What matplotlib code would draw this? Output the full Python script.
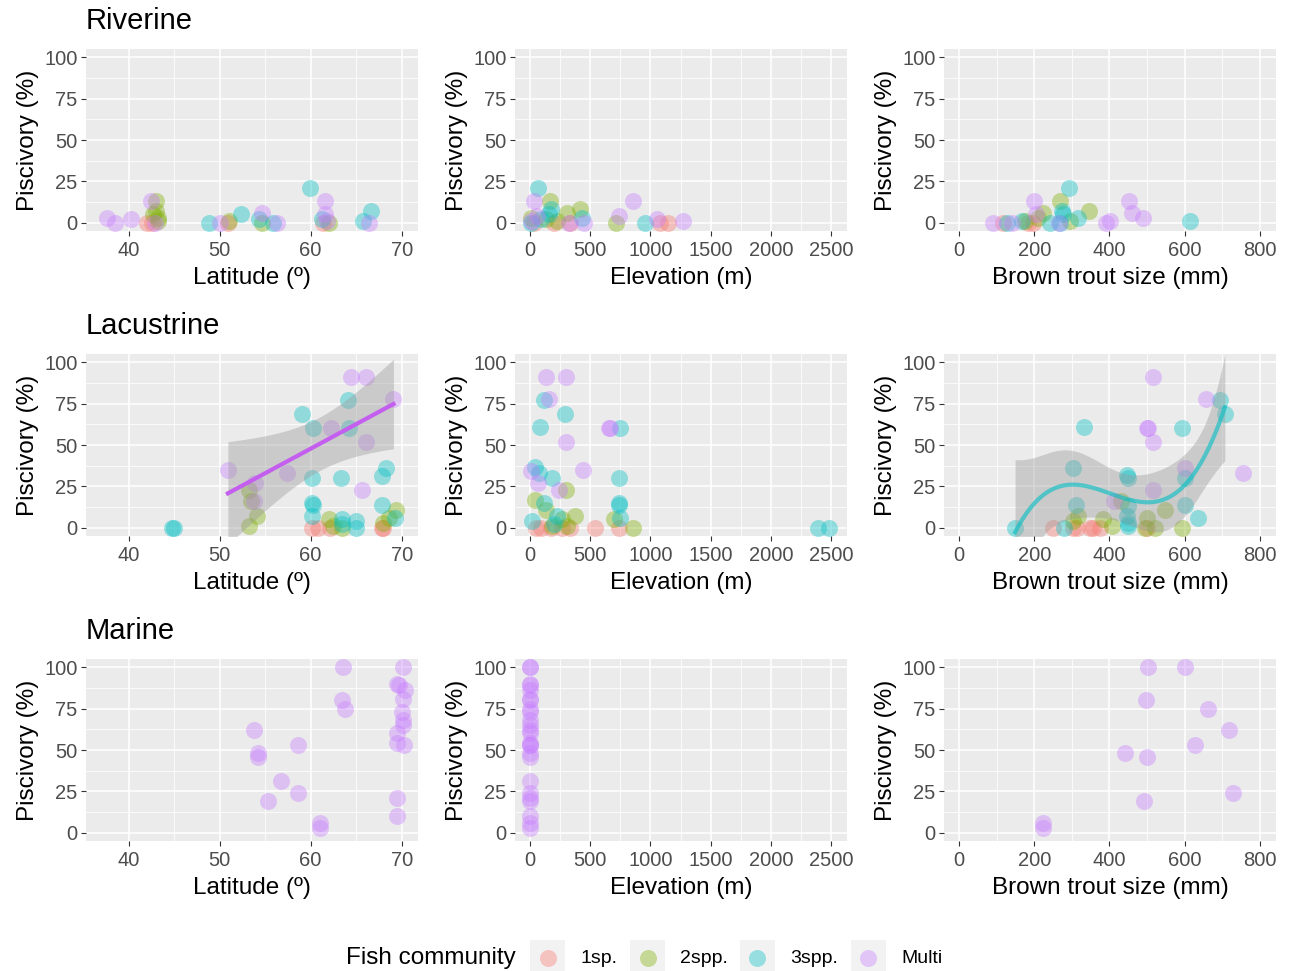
import numpy as np
import matplotlib
matplotlib.use("Agg")
import matplotlib.pyplot as plt

plt.rcParams['font.family'] = ['Liberation Sans', 'DejaVu Sans']

COLS = {"1sp.": "#F8766D", "2spp.": "#7CAE00", "3spp.": "#00BFC4", "Multi": "#C77CFF"}
groups = ["1sp.", "2spp.", "3spp.", "Multi"]

# ---- Riverine ----
riv_lat = {
    "Multi": ([37.6, 38.5, 40.3, 42.5, 42.9, 50, 54.7, 56.3, 61.6, 61.6, 66.4, 61.8],
              [3, 0, 2, 13, 0, 0, 6, 0, 13, 5, 0, 1]),
    "3spp.": ([48.8, 52.3, 54.3, 55.9, 59.9, 61.2, 65.7, 66.6], [0, 5, 2, 0, 21, 2, 1, 7]),
    "2spp.": ([43, 43, 43.2, 43.2, 51, 54.7, 62, 42.7], [13, 7, 3, 1, 1, 0, 0, 5]),
    "1sp.": ([42, 42.6, 61.4, 50.9], [0, 0, 0, 0]),
}
riv_elev = {
    "3spp.": ([66, 171, 157, 88, 956, 432, 5], [21, 8, 5, 2, 0, 3, 0]),
    "Multi": ([33, 854, 736, 1052, 1267, 5, 446, 60, 322], [13, 13, 4, 2, 1, 1, 0, 4, 0]),
    "2spp.": ([165, 419, 309, 713, 5, 226, 129], [13, 8, 6, 0, 3, 1, 2]),
    "1sp.": ([1149, 1080, 33, 198, 336], [0, 0, 0, 0, 0]),
}
riv_size = {
    "Multi": ([89, 200, 206, 392, 401, 453, 459, 488, 267, 140], [0, 13, 5, 0, 1, 13, 6, 3, 0, 0]),
    "3spp.": ([292, 273, 277, 614, 127, 167, 242, 317, 268], [21, 7, 5, 1, 0, 1, 0, 3, 0]),
    "2spp.": ([268, 346, 222, 211, 295, 175], [13, 7, 6, 3, 1, 1]),
    "1sp.": ([184, 198, 118], [0, 0, 0]),
}

# ---- Lacustrine ----
lac_lat = {
    "Multi": ([50.9, 53.9, 53.8, 57.4, 62.2, 64.4, 66.1, 66.1, 65.6, 69.1],
              [35, 27, 16, 33, 60, 91, 91, 52, 23, 78]),
    "3spp.": ([44.8, 45, 59.1, 60.3, 60.2, 60.2, 60.3, 60.2, 64.1, 64.2, 63.3, 63.4, 63.4, 65, 65, 67.8, 68.3, 67.8, 69.3],
              [0, 0, 69, 60, 30, 15, 14, 7, 77, 60, 30, 5, 2, 4, 0, 31, 36, 14, 6]),
    "2spp.": ([53.2, 53.4, 54.1, 53.2, 62, 63.4, 69.4, 68.6, 67.9, 62.5], [23, 16, 7, 1, 5, 0, 11, 6, 3, 1]),
    "1sp.": ([60.2, 60.8, 62.1, 67.8, 67.9], [0, 0, 0, 0, 0]),
}
lac_elev = {
    "Multi": ([129, 300, 157, 300, 667, 653, 441, 10, 66, 240], [91, 91, 78, 52, 60, 60, 35, 34, 27, 23]),
    "3spp.": ([116, 287, 83, 744, 41, 74, 185, 741, 736, 741, 116, 744, 19, 2389, 2485, 226, 198],
              [77, 69, 61, 60, 37, 33, 30, 30, 15, 14, 15, 6, 4, 0, 0, 7, 2]),
    "2spp.": ([39, 295, 129, 377, 694, 854, 267, 185, 309], [17, 23, 11, 7, 5, 0, 5, 1, 1]),
    "1sp.": ([537, 736, 336, 267, 88, 47, 171], [0, 0, 0, 0, 0, 0, 0]),
}
lac_size = {
    "Multi": ([516, 658, 503, 499, 516, 600, 756, 516, 412], [91, 78, 60, 60, 52, 36, 33, 23, 16]),
    "3spp.": ([149, 279, 304, 311, 332, 446, 450, 450, 446, 450, 450, 594, 600, 600, 636, 694, 707],
              [0, 0, 36, 14, 61, 32, 30, 13, 7, 3, 1, 60, 30, 14, 6, 77, 69]),
    "2spp.": ([432, 547, 499, 594, 521, 406, 384, 317, 304, 494], [16, 11, 6, 0, 0, 1, 5, 7, 4, 0]),
    "1sp.": ([251, 304, 348, 357, 375, 499, 313], [0, 0, 0, 0, 0, 0, 0]),
}

# ---- Marine (all Multi) ----
mar_pisc = [100, 100, 90, 89, 86, 81, 80, 75, 73, 68, 65, 62, 60, 54, 53, 53, 48, 46, 31, 19, 24, 21, 10, 6, 3]
mar_lat = [63.6, 70.2, 69.5, 69.7, 70.4, 70.1, 63.4, 63.8, 70, 70.2, 70.2, 53.8, 69.5, 69.5, 70.3, 58.6,
           54.2, 54.2, 56.7, 55.3, 58.6, 69.5, 69.5, 61, 61]
mar_elev = [0] * len(mar_pisc)
mar_size = [503, 600, 496, 663, 718, 627, 441, 500, 729, 492, 224, 224]
mar_size_pisc = [100, 100, 80, 75, 62, 53, 48, 46, 24, 19, 6, 3]


def poly_band(x, y, xs, deg, t):
    # least squares polynomial with pointwise confidence band
    x = np.asarray(x, float); y = np.asarray(y, float)
    X = np.vander(x, deg + 1)
    beta, *_ = np.linalg.lstsq(X, y, rcond=None)
    res = y - X @ beta
    s2 = np.sum(res ** 2) / (len(x) - deg - 1)
    cov = s2 * np.linalg.inv(X.T @ X)
    Xs = np.vander(xs, deg + 1)
    fit = Xs @ beta
    se = np.sqrt(np.einsum("ij,jk,ik->i", Xs, cov, Xs))
    return fit, fit - t * se, fit + t * se


W, H = 1292, 971
fig = plt.figure(figsize=(W / 100, H / 100), dpi=100)

col_left = [86, 515, 944]
col_w = 332
row_top = [49, 354, 659]
row_h = 182

xlims = [(35.3, 71.8), (-125, 2633), (-40, 843)]
xticks = [[40, 50, 60, 70], [0, 500, 1000, 1500, 2000, 2500], [0, 200, 400, 600, 800]]
xlabels = ["Latitude (º)", "Elevation (m)", "Brown trout size (mm)"]
titles = ["Riverine", "Lacustrine", "Marine"]


def make_ax(r, c):
    ax = fig.add_axes([col_left[c] / W, 1 - (row_top[r] + row_h) / H, col_w / W, row_h / H])
    ax.set_facecolor("#EBEBEB")
    for s in ax.spines.values():
        s.set_visible(False)
    ax.set_xlim(*xlims[c])
    ax.set_ylim(-5, 105)
    ax.set_xticks(xticks[c])
    ax.set_yticks([0, 25, 50, 75, 100])
    mx = np.array(xticks[c])
    ax.set_xticks((mx[:-1] + mx[1:]) / 2, minor=True)
    ax.set_yticks([12.5, 37.5, 62.5, 87.5], minor=True)
    ax.grid(which="major", color="white", lw=1.1)
    ax.grid(which="minor", color="white", lw=0.55)
    ax.set_axisbelow(True)
    ax.tick_params(which="major", length=3.5, width=0.8, color="#333333", labelsize=14.5,
                   labelcolor="#4D4D4D", pad=2.5)
    ax.tick_params(axis="x", which="major", pad=4)
    ax.tick_params(which="minor", length=0)
    ax.set_xlabel(xlabels[c], fontsize=17.5, labelpad=5)
    ax.set_ylabel("Piscivory (%)", fontsize=17.5, labelpad=4)
    if c == 0:
        fig.text(col_left[0] / W, 1 - (row_top[r] - 28) / H, titles[r], fontsize=21,
                 ha="left", va="center")
    return ax


def scatter_groups(ax, d):
    for g in groups:
        if g in d:
            xs, ys = d[g]
            ax.scatter(xs, ys, s=150, color=COLS[g], alpha=0.38, lw=0, zorder=3)


panels = [[riv_lat, riv_elev, riv_size], [lac_lat, lac_elev, lac_size]]
axes = {}
for r in range(2):
    for c in range(3):
        ax = make_ax(r, c)
        scatter_groups(ax, panels[r][c])
        axes[(r, c)] = ax

ax = make_ax(2, 0)
ax.scatter(mar_lat, mar_pisc, s=150, color=COLS["Multi"], alpha=0.38, lw=0, zorder=3)
ax = make_ax(2, 1)
ax.scatter(mar_elev, mar_pisc, s=150, color=COLS["Multi"], alpha=0.38, lw=0, zorder=3)
ax = make_ax(2, 2)
ax.scatter(mar_size, mar_size_pisc, s=150, color=COLS["Multi"], alpha=0.38, lw=0, zorder=3)

# linear fit for Multi, lacustrine latitude
x, y = lac_lat["Multi"]
xs = np.linspace(min(x), max(x), 80)
fit, lo, hi = poly_band(x, y, xs, 1, 2.306)
ax = axes[(1, 0)]
ax.fill_between(xs, lo, hi, color="#999999", alpha=0.4, lw=0, zorder=4)
ax.plot(xs, fit, color="#C45EEF", lw=3, zorder=5)

# smooth curve for 3spp., lacustrine size
x, y = lac_size["3spp."]
xs = np.linspace(min(x), max(x), 80)
fit, lo, hi = poly_band(x, y, xs, 3, 2.16)
ax = axes[(1, 2)]
ax.fill_between(xs, lo, hi, color="#999999", alpha=0.4, lw=0, zorder=4)
ax.plot(xs, fit, color=COLS["3spp."], alpha=0.6, lw=3, zorder=5)

# legend
fig.text(346 / W, 1 - 958 / H, "Fish community", fontsize=17.5, ha="left", va="center")
key_x = [530, 630, 740, 851]
for kx, g in zip(key_x, groups):
    kax = fig.add_axes([kx / W, 1 - 975 / H, 35 / W, 35 / H])
    kax.set_facecolor("#F2F2F2")
    kax.set_xlim(0, 1); kax.set_ylim(0, 1)
    kax.set_xticks([]); kax.set_yticks([])
    for s in kax.spines.values():
        s.set_visible(False)
    kax.scatter([0.5], [0.5], s=150, color=COLS[g], alpha=0.38, lw=0)
    fig.text((kx + 50) / W, 1 - 958 / H, g, fontsize=14, ha="left", va="center")

fig.savefig("out.png", dpi=100)
